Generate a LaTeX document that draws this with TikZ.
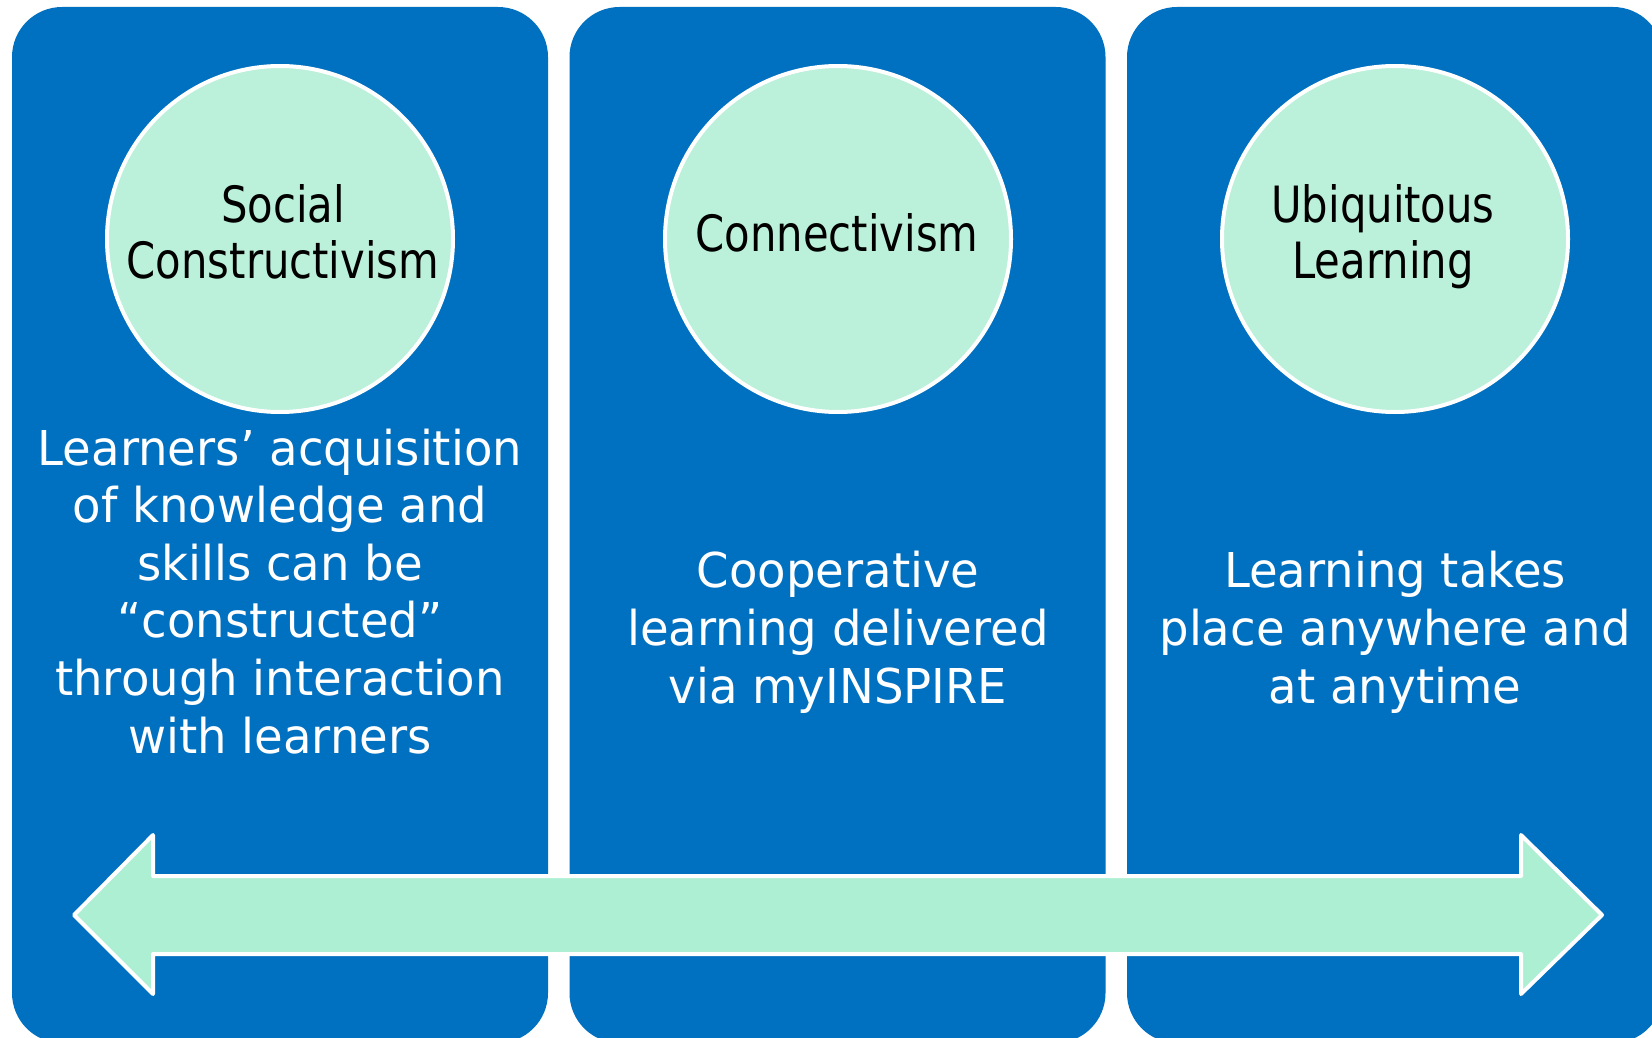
\documentclass[tikz,border=0pt]{standalone}
\usepackage{fontspec}
\setmainfont{DejaVu Sans}
\newfontfamily\circfont{DejaVu Sans}[FakeStretch=0.835]
\newfontfamily\bodyfont{DejaVu Sans}[FakeStretch=0.97]
\definecolor{panelblue}{RGB}{0,112,192}
\definecolor{discgreen}{RGB}{187,240,218}
\definecolor{arrowgreen}{RGB}{173,239,211}
\begin{document}
\begin{tikzpicture}[x=1pt,y=-1pt,
  panel/.style={draw=none,fill=panelblue,rounded corners=50pt,minimum width=536pt,minimum height=1036pt,inner sep=0pt},
  disc/.style={circle,fill=discgreen,draw=white,line width=4pt,minimum size=346pt,inner sep=0pt},
  circtext/.style={anchor=base,inner sep=0pt,text=black,font=\circfont\fontsize{50}{56}\selectfont},
  bodytext/.style={anchor=base,inner sep=0pt,text=white,font=\bodyfont\fontsize{48}{58}\selectfont},
  bigarrow/.style={fill=arrowgreen,draw=white,line width=4pt,line join=round}]
\useasboundingbox (0,0) rectangle (1652,1038);
\fill[white] (0,0) rectangle (1652,1038);
\begin{scope}
\clip (0,0) rectangle (1652,1038);
\node[panel] (p1) at (280,525) {};
\node[panel] (p2) at (837.5,525) {};
\node[panel] (p3) at (1395,525) {};
\end{scope}
\node[disc] (c1) at (280,239) {};
\node[disc] (c2) at (838,239) {};
\node[disc] (c3) at (1395,239) {};
\node[circtext] (t1a) at (283,222) {Social};
\node[circtext] (t1b) at (283,278) {Constructivism};
\node[circtext] (t2a) at (837,251) {Connectivism};
\node[circtext] (t3a) at (1383,222) {Ubiquitous};
\node[circtext] (t3b) at (1383,278) {Learning};
\node[bodytext] (b1a) at (280,465) {Learners’ acquisition};
\node[bodytext] (b1b) at (280,522.6) {of knowledge and};
\node[bodytext] (b1c) at (280,580.2) {skills can be};
\node[bodytext] (b1d) at (280,637.8) {“constructed”};
\node[bodytext] (b1e) at (280,695.4) {through interaction};
\node[bodytext] (b1f) at (280,753) {with learners};
\node[bodytext] (b2a) at (838,587) {Cooperative};
\node[bodytext] (b2b) at (838,645) {learning delivered};
\node[bodytext] (b2c) at (838,703) {via myINSPIRE};
\node[bodytext] (b3a) at (1395,587) {Learning takes};
\node[bodytext] (b3b) at (1395,645) {place anywhere and};
\node[bodytext] (b3c) at (1395,703) {at anytime};
\draw[bigarrow] (74,915) -- (153,835) -- (153,876) -- (1521,876) -- (1521,835) -- (1602,915)
  -- (1521,994) -- (1521,954) -- (153,954) -- (153,994) -- cycle;
\end{tikzpicture}
\end{document}
